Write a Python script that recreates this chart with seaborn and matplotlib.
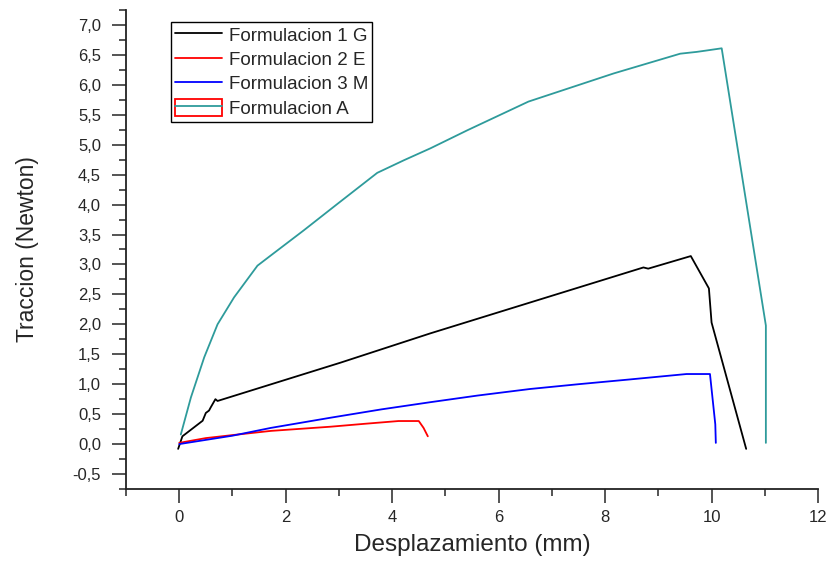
import matplotlib
matplotlib.use("Agg")
import matplotlib.pyplot as plt
import seaborn as sns
import pandas as pd
from matplotlib.lines import Line2D
from matplotlib.patches import Rectangle
from matplotlib.legend_handler import HandlerTuple
from matplotlib.ticker import MultipleLocator, FuncFormatter

# valores
x_g = [-0.02, 0.06, 0.44, 0.50, 0.56, 0.59, 0.68, 0.72, 3.03, 4.72, 8.72, 8.81, 9.61, 9.95, 10.0, 10.65]
y_g = [-0.08, 0.13, 0.39, 0.52, 0.56, 0.61, 0.75, 0.72, 1.36, 1.85, 2.95, 2.93, 3.14, 2.60, 2.03, -0.08]

x_e = [0.0, 0.5, 1.0, 1.72, 2.84, 3.5, 4.12, 4.5, 4.59, 4.67]
y_e = [0.02, 0.10, 0.15, 0.22, 0.29, 0.34, 0.385, 0.385, 0.27, 0.13]

x_m = [0.0, 0.5, 1.0, 1.72, 2.84, 3.8, 4.72, 5.6, 6.59, 7.5, 8.47, 9.53, 9.97, 10.02, 10.07, 10.08]
y_m = [0.0, 0.07, 0.14, 0.27, 0.44, 0.58, 0.70, 0.81, 0.92, 1.0, 1.08, 1.17, 1.17, 0.75, 0.33, 0.02]

x_a = [0.03, 0.22, 0.47, 0.72, 1.03, 1.47, 1.72, 2.34, 2.97, 3.72, 4.22, 4.72, 5.41,
       6.56, 8.16, 9.41, 9.72, 9.88, 10.19, 11.02, 11.02]
y_a = [0.16, 0.78, 1.45, 2.0, 2.45, 2.98, 3.15, 3.57, 4.01, 4.53, 4.74, 4.94, 5.24,
       5.72, 6.19, 6.52, 6.55, 6.57, 6.61, 1.98, 0.02]

labels = ["Formulacion 1 G", "Formulacion 2 E", "Formulacion 3 M", "Formulacion A"]
colors = ["black", "red", "blue", "#2e9b9b"]


def comma(v, pos):
    return ("%.1f" % v).replace(".", ",")


def main():
    sns.set_style("ticks")
    plt.rcParams["font.family"] = ["Liberation Sans", "DejaVu Sans"]
    fig = plt.figure(figsize=(8.31, 5.64), dpi=100)
    ax = fig.add_axes([0.1516, 0.133, 0.8328, 0.8493])

    series = [(x_g, y_g), (x_e, y_e), (x_m, y_m), (x_a, y_a)]
    for (xs, ys), lab, col in zip(series, labels, colors):
        df = pd.DataFrame({"x": xs, "y": ys})
        sns.lineplot(data=df, x="x", y="y", sort=False, estimator=None,
                     color=col, linewidth=1.3, ax=ax)

    ax.set_xlim(-1, 12)
    ax.set_ylim(-0.75, 7.25)
    ax.xaxis.set_major_locator(MultipleLocator(2))
    ax.xaxis.set_minor_locator(MultipleLocator(1))
    ax.yaxis.set_major_locator(MultipleLocator(0.5))
    ax.yaxis.set_minor_locator(MultipleLocator(0.25))
    ax.yaxis.set_major_formatter(FuncFormatter(comma))
    ax.tick_params(which="major", length=10, width=1.1, labelsize=12, direction="out")
    ax.tick_params(axis="y", which="major", pad=8)
    ax.tick_params(axis="x", which="major", pad=5)
    ax.tick_params(which="minor", length=5, width=1.1, direction="out")
    for s in ["top", "right"]:
        ax.spines[s].set_visible(False)
    for s in ["left", "bottom"]:
        ax.spines[s].set_linewidth(1.3)
        ax.spines[s].set_color("#222222")

    ax.set_xlabel("Desplazamiento (mm)", fontsize=17.5)
    ax.set_ylabel("Traccion (Newton)", fontsize=16.5)
    ax.yaxis.set_label_coords(-0.125, 0.5)
    ax.xaxis.set_label_coords(0.5, -0.095)

    handles = [Line2D([], [], color=c, lw=1.3) for c in colors[:3]]
    handles.append((Rectangle((0, 0), 1, 1, fill=False, edgecolor="red", lw=1.3),
                    Line2D([], [], color=colors[3], lw=1.3)))
    leg = ax.legend(handles, labels, loc="upper left", bbox_to_anchor=(0.065, 0.975),
                    borderaxespad=0, fontsize=13.5, handlelength=2.5, handletextpad=0.4,
                    handleheight=1.0, labelspacing=0.3, borderpad=0.2, fancybox=False,
                    framealpha=1, handler_map={tuple: HandlerTuple(ndivide=1, pad=0)})
    leg.get_frame().set_edgecolor("black")
    leg.get_frame().set_linewidth(1.0)

    fig.savefig("out.png", dpi=100)


if __name__ == "__main__":
    main()
